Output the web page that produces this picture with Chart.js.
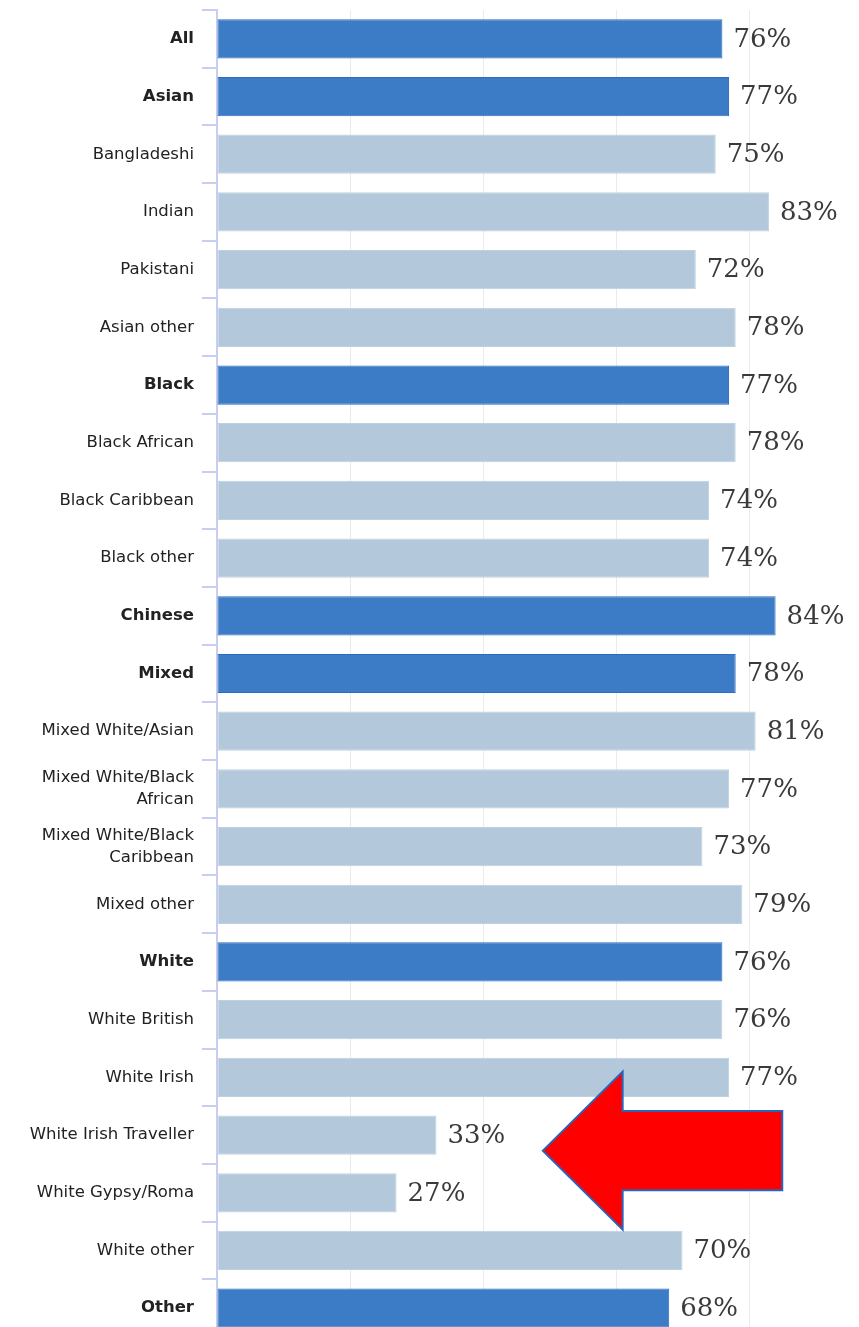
<!DOCTYPE html>
<html>
<head>
<meta charset="utf-8">
<script src="https://cdn.jsdelivr.net/npm/chart.js@4"></script>
<style>
    html, body { margin: 0; padding: 0; background: #ffffff; overflow: hidden; }
    #wrap { position: absolute; left: 0; top: 0; width: 882px; height: 1337px; }
</style>
</head>
<body>
<div id="wrap"><canvas id="ethnicityChart"></canvas></div>
<script>
// Categories (multi-line labels as arrays)
const categories = [
    'All', 'Asian', 'Bangladeshi', 'Indian', 'Pakistani', 'Asian other',
    'Black', 'Black African', 'Black Caribbean', 'Black other',
    'Chinese', 'Mixed', 'Mixed White/Asian',
    ['Mixed White/Black', 'African'], ['Mixed White/Black', 'Caribbean'],
    'Mixed other', 'White', 'White British', 'White Irish',
    'White Irish Traveller', 'White Gypsy/Roma', 'White other', 'Other'
];

// Percentage values
const values = [76, 77, 75, 83, 72, 78, 77, 78, 74, 74, 84, 78, 81, 77, 73, 79, 76, 76, 77, 33, 27, 70, 68];

// Top-level groups are shown bold and in the darker blue
const isGroup = [true, true, false, false, false, false, true, false, false, false, true, true,
    false, false, false, false, true, false, false, false, false, false, true];

const xTicks = [0, 20, 40, 60, 80, 100];

const colors = {
    group: '#3c7cc6',
    groupBorder: '#2c6cbf',
    sub: '#b3c8da',
    subBorder: '#bfd1e0',
    axis: '#c9cdef',
    grid: '#ebebeb',
    label: '#222222',
    value: '#3a3a3a',
    arrowFill: '#ff0000',
    arrowStroke: '#2b63b8'
};

// Red arrow annotation, in data units (x = percent, y = category index)
const arrow = { tip: 49, headBase: 61, tail: 85, row: 19.27, headHalf: 1.37, shaftHalf: 0.685 };

const valueLabels = {
    id: 'valueLabels',
    afterDatasetsDraw(chart) {
        const ctx = chart.ctx;
        const meta = chart.getDatasetMeta(0);
        ctx.save();
        ctx.font = '26px "DejaVu Serif"';
        ctx.fillStyle = colors.value;
        ctx.textAlign = 'left';
        ctx.textBaseline = 'middle';
        meta.data.forEach((bar, i) => {
            ctx.fillText(values[i] + '%', bar.x + 11, bar.y + 1);
        });
        ctx.restore();
    }
};

const arrowPlugin = {
    id: 'arrowPlugin',
    afterDraw(chart) {
        const x = chart.scales.x;
        const y = chart.scales.y;
        const rowH = y.getPixelForValue(1) - y.getPixelForValue(0);
        const cy = y.getPixelForValue(0) + arrow.row * rowH;
        const tipX = x.getPixelForValue(arrow.tip);
        const baseX = x.getPixelForValue(arrow.headBase);
        const tailX = x.getPixelForValue(arrow.tail);
        const hh = arrow.headHalf * rowH;
        const sh = arrow.shaftHalf * rowH;
        const ctx = chart.ctx;
        ctx.save();
        ctx.beginPath();
        ctx.moveTo(tipX, cy);
        ctx.lineTo(baseX, cy - hh);
        ctx.lineTo(baseX, cy - sh);
        ctx.lineTo(tailX, cy - sh);
        ctx.lineTo(tailX, cy + sh);
        ctx.lineTo(baseX, cy + sh);
        ctx.lineTo(baseX, cy + hh);
        ctx.closePath();
        ctx.fillStyle = colors.arrowFill;
        ctx.fill();
        ctx.lineWidth = 2;
        ctx.strokeStyle = colors.arrowStroke;
        ctx.stroke();
        ctx.restore();
    }
};

function noPadding(scale) {
    scale.paddingTop = 0;
    scale.paddingBottom = 0;
    scale.paddingLeft = 0;
    scale.paddingRight = 0;
}

const ctx = document.getElementById('ethnicityChart').getContext('2d');
new Chart(ctx, {
    type: 'bar',
    data: {
        labels: categories,
        datasets: [{
            data: values,
            backgroundColor: isGroup.map(g => g ? colors.group : colors.sub),
            borderColor: isGroup.map(g => g ? colors.groupBorder : colors.subBorder),
            borderWidth: 1,
            borderSkipped: false,
            barPercentage: 0.68,
            categoryPercentage: 1.0
        }]
    },
    options: {
        indexAxis: 'y',
        responsive: true,
        maintainAspectRatio: false,
        animation: false,
        layout: { padding: { top: 10, right: 0, bottom: 0, left: 0 } },
        plugins: {
            legend: { display: false },
            tooltip: { enabled: false }
        },
        scales: {
            x: {
                min: xTicks[0],
                max: xTicks[xTicks.length - 1],
                afterBuildTicks: scale => { scale.ticks = xTicks.map(v => ({ value: v })); },
                afterFit: scale => { scale.height = 0; noPadding(scale); },
                ticks: { display: false },
                border: { display: false },
                grid: { color: colors.grid, lineWidth: 1, drawTicks: false }
            },
            y: {
                afterFit: scale => { scale.width = 217; noPadding(scale); },
                border: { display: true, color: colors.axis, width: 2 },
                grid: {
                    offset: true,
                    drawOnChartArea: false,
                    drawTicks: true,
                    tickLength: 15,
                    color: colors.axis,
                    lineWidth: 2
                },
                ticks: {
                    padding: 8,
                    color: colors.label,
                    autoSkip: false,
                    font: c => ({
                        family: '"DejaVu Sans"',
                        size: 16.5,
                        weight: isGroup[c.index] ? 'bold' : 'normal',
                        lineHeight: 1.35
                    })
                }
            }
        }
    },
    plugins: [valueLabels, arrowPlugin]
});
</script>
</body>
</html>
